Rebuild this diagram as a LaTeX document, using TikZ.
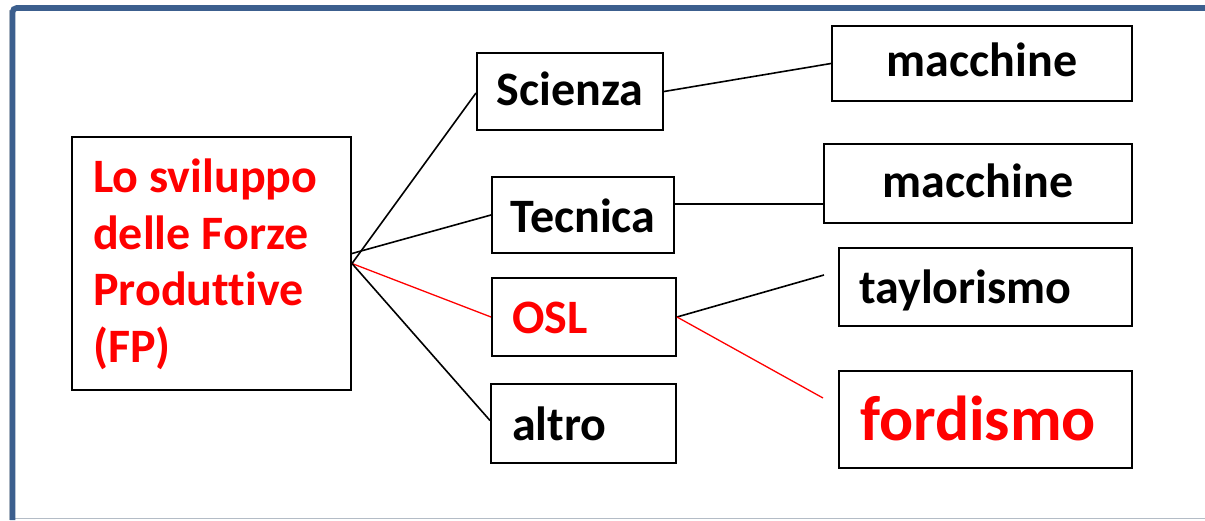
\documentclass[tikz,border=0pt]{standalone}
\usepackage{fontspec}
\setmainfont{Carlito}[Ligatures=NoCommon]
\usetikzlibrary{calc}
\definecolor{frameblue}{HTML}{3C5F8E}
\definecolor{framegray}{HTML}{B4BCC6}
\definecolor{hot}{HTML}{FF0000}
\begin{document}
\begin{tikzpicture}[x=1pt,y=-1pt,
  box/.style={draw=black, line width=2pt, inner sep=0pt, fill=none},
  lbl/.style={inner sep=0pt, font=\fontsize{48}{56.5}\selectfont\bfseries},
  big/.style={inner sep=0pt, font=\fontsize{63.5}{70}\selectfont\bfseries},
  link/.style={draw=black, line width=1.6pt},
  hotlink/.style={draw=hot, line width=1.3pt}]
\useasboundingbox (0,0) rectangle (1205,520);

% slide frame
\draw[framegray, line width=1.2pt] (9.4,10) -- (9.4,520);
\draw[framegray, line width=1.5pt] (9,518.6) -- (1205,518.6);
\draw[frameblue, line width=5.6pt, rounded corners=4pt] (12.6,520) -- (12.6,8) -- (1205,8);

% boxes
\node[box, minimum width=279pt, minimum height=253pt] (fp)   at (211.5,263.5) {};
\node[box, minimum width=186pt, minimum height=77pt]  (sci)  at (570,91.5)   {};
\node[box, minimum width=182pt, minimum height=76pt]  (tec)  at (583,215)    {};
\node[box, minimum width=184pt, minimum height=78pt]  (osl)  at (584,317)    {};
\node[box, minimum width=185pt, minimum height=79pt]  (alt)  at (583.5,423.5){};
\node[box, minimum width=300pt, minimum height=75pt]  (mac1) at (982,63.5)   {};
\node[box, minimum width=308pt, minimum height=79pt]  (mac2) at (978,183.5)  {};
\node[box, minimum width=293pt, minimum height=78pt]  (tay)  at (985.5,287)  {};
\node[box, minimum width=293pt, minimum height=97pt]  (ford) at (985.5,419.5) {};

% labels (the multi-line one is placed by the baseline of its last line)
\node[lbl, hot, anchor=base west, align=left] (fpt) at (93,362)
  {Lo sviluppo\\delle Forze\\Produttive\\(FP)};
\node[lbl, anchor=base] (scit) at (570,105) {Scienza};
\node[lbl, anchor=base] (tect) at (583,232) {Tecnica};
\node[lbl, hot, anchor=base west] (oslt) at (512,333) {OSL};
\node[lbl, anchor=base west] (altt) at (512,440) {altro};
\node[lbl, anchor=base] (mac1t) at (982,76) {macchine};
\node[lbl, anchor=base] (mac2t) at (978,197) {macchine};
\node[lbl, anchor=base west] (tayt) at (859,303) {taylorismo};
\node[big, hot, anchor=base west] (fordt) at (860,440) {fordismo};

% free ends of the two connectors leaving OSL
\coordinate (tayend)  at (824,275);
\coordinate (fordend) at (823,398);

% connectors
\draw[link] (fp.east) -- ([yshift=-1.5pt]sci.west);
\draw[link] ([yshift=10pt]fp.east) -- (tec.west);
\draw[hotlink] (fp.east) -- (osl.west);
\draw[link] (fp.east) -- ([yshift=3pt]alt.west);
\draw[link] (sci.east) -- (mac1.west);
\draw[link] ([yshift=11pt]tec.east) -- ([yshift=11pt]tec.east -| mac2.west);
\draw[link] (osl.east) -- (tayend);
\draw[hotlink] (osl.east) -- (fordend);
\end{tikzpicture}
\end{document}
